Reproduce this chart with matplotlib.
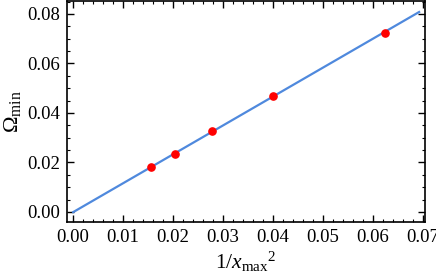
import matplotlib
matplotlib.use("Agg")
import matplotlib.pyplot as plt
from matplotlib.ticker import MultipleLocator

# data
inv_xmax2 = [1/64, 1/49, 1/36, 1/25, 1/16]
omega_min = [0.0180, 0.0236, 0.0325, 0.0469, 0.0725]
fit_x = [0.0, 0.0693]
fit_y = [-0.0001, 0.0808]

plt.rcParams['font.family'] = ['Liberation Serif', 'DejaVu Serif']
plt.rcParams['mathtext.fontset'] = 'custom'
plt.rcParams['mathtext.rm'] = 'Liberation Serif'
plt.rcParams['mathtext.it'] = 'Liberation Serif:italic'

fig = plt.figure(figsize=(4.36, 2.8), dpi=100)
ax = fig.add_axes([0.154, 0.207, 0.821, 0.789])

ax.plot(fit_x, fit_y, color='#4f89dd', lw=1.6, zorder=2)
ax.plot(inv_xmax2, omega_min, 'o', color='red', ms=5.2, zorder=3)

ax.set_xlim(-0.0012, 0.0705)
ax.set_ylim(-0.0041, 0.0852)

ax.xaxis.set_major_locator(MultipleLocator(0.01))
ax.xaxis.set_minor_locator(MultipleLocator(0.002))
ax.yaxis.set_major_locator(MultipleLocator(0.02))
ax.yaxis.set_minor_locator(MultipleLocator(0.005))
ax.xaxis.set_major_formatter(plt.FuncFormatter(lambda v, p: f"{v:.2f}"))
ax.yaxis.set_major_formatter(plt.FuncFormatter(lambda v, p: f"{v:.2f}"))

ax.tick_params(which='both', direction='in', top=True, right=True,
               labelsize=13.5, colors='black')
ax.tick_params(which='major', length=5, width=1, pad=5)
ax.tick_params(which='minor', length=2.5, width=0.8)
for s in ax.spines.values():
    s.set_linewidth(1.2)

ax.set_xlabel(r'$1/x_{\mathrm{max}}{}^{2}$', fontsize=15.5, labelpad=3)
ax.set_ylabel(r'$\Omega_{\mathrm{min}}$', fontsize=16, labelpad=3)

fig.savefig('out.png', dpi=100)
